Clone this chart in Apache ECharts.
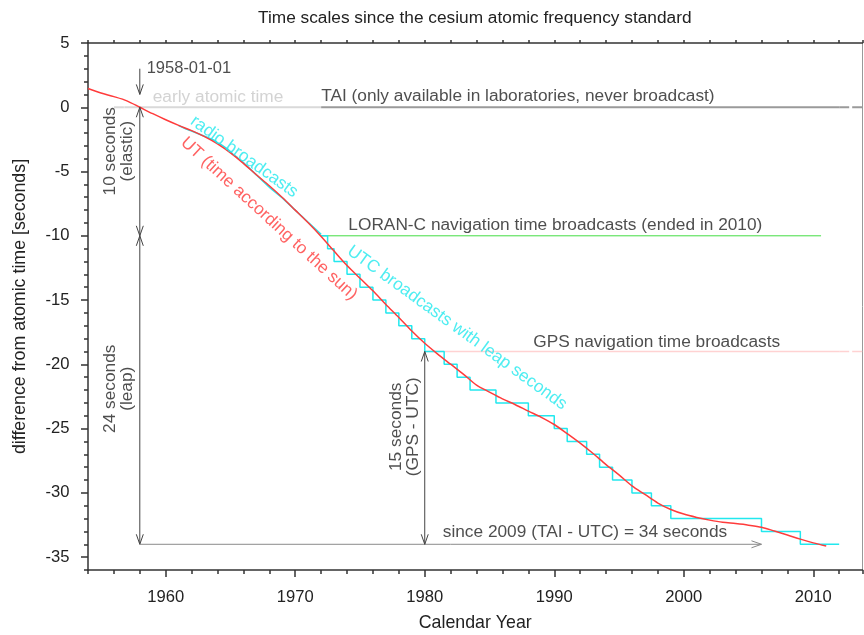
<!DOCTYPE html>
<html><head><meta charset="utf-8">
<script src="https://cdn.jsdelivr.net/npm/echarts@6/dist/echarts.min.js"></script>
<style>html,body{margin:0;padding:0;background:#fff}#c{width:864px;height:635px}</style>
</head><body><div id="c"></div>
<script>
// ---------------- data ----------------
// UT (time according to the sun) minus TAI, seconds, start of each year
const utYears = [1954,1955,1956,1957,1958,1959,1960,1961,1962,1963,1964,1965,1966,1967,1968,1969,1970,
  1971,1972,1973,1974,1975,1976,1977,1978,1979,1980,1981,1982,1983,1984,1985,1986,1987,1988,1989,1990,
  1991,1992,1993,1994,1995,1996,1997,1998,1999,2000,2001,2002,2003,2004,2005,2006,2007,2008,2009,2010,2011];
const utValues = [1.46,1.11,0.83,0.50,0.00,-0.50,-0.97,-1.41,-1.82,-2.29,-2.85,-3.55,-4.36,-5.25,-6.11,-7.02,-8.00,
  -8.99,-10.05,-11.19,-12.31,-13.30,-14.28,-15.34,-16.35,-17.41,-18.36,-19.20,-19.99,-20.78,-21.61,-22.16,-22.69,-23.14,-23.64,-24.12,-24.68,
  -25.39,-26.13,-26.94,-27.80,-28.60,-29.45,-30.12,-30.79,-31.29,-31.65,-31.91,-32.12,-32.29,-32.39,-32.51,-32.67,-32.97,-33.28,-33.60,-33.89,-34.14];

// early "rubber second" radio broadcasts (UTC - TAI), 1961-1972
const radioYears  = [1961,1961.58,1961.58,1962,1963,1963.83,1963.83,1964,1964.25,1964.25,1964.67,1964.67,1965,1965,1965.16,1965.16,1965.5,1965.5,1965.67,1965.67,1966,1967,1968.08,1968.08,1969,1970,1971,1972];
const radioValues = [-1.42,-1.70,-1.65,-1.85,-2.26,-2.60,-2.70,-2.77,-2.88,-2.98,-3.18,-3.28,-3.44,-3.54,-3.62,-3.72,-3.88,-3.98,-4.06,-4.16,-4.31,-5.26,-6.29,-6.19,-7.05,-8.00,-8.95,-9.89];

// UTC with leap seconds (UTC - TAI), value valid from the given date
const utcYears  = [1972,1972.5,1973,1974,1975,1976,1977,1978,1979,1980,1981.5,1982.5,1983.5,1985.5,1988,1990,1991,1992.5,1993.5,1994.5,1996,1997.5,1999,2006,2009,2012];
const utcValues = [-10,-11,-12,-13,-14,-15,-16,-17,-18,-19,-20,-21,-22,-23,-24,-25,-26,-27,-28,-29,-30,-31,-32,-33,-34,-34];

// horizontal time-scale lines
const refNames  = ['early atomic time','TAI','LORAN-C','GPS'];
const refValues = [0, 0, -10, -19];
const refStart  = [1956.8, 1972, 1972, 1980];
const refEnd    = [1972, 2012, 2010.6, 2012];
const refDashStart = [1956, 2012, null, 2012];
const refDashEnd   = [1956.8, 2013.8, null, 2013.8];

// arrows: from (x1,y1) to (x2,y2); heads: 1 = at end, 2 = both ends
const arrowX1 = [1958, 1958, 1958, 1958, 1980];
const arrowY1 = [3, 0, -10, -34, -19];
const arrowX2 = [1958, 1958, 1958, 2006, 1980];
const arrowY2 = [1, -10, -34, -34, -34];
const arrowHeads = [1, 2, 2, 1, 2];

// tick labels
const xTickLabels = [1960, 1970, 1980, 1990, 2000, 2010];
const yTickLabels = [-35, -30, -25, -20, -15, -10, -5, 0, 5];

// annotation texts and their anchors (data coordinates)
const noteTexts = ['1958-01-01','early atomic time','TAI (only available in laboratories, never broadcast)',
  'LORAN-C navigation time broadcasts (ended in 2010)','GPS navigation time broadcasts',
  'since 2009 (TAI - UTC) = 34 seconds','radio broadcasts','UT (time according to the sun)',
  'UTC broadcasts with leap seconds','10 seconds\n(elastic)','24 seconds\n(leap)','15 seconds\n(GPS - UTC)'];
const noteX = [1958.53, 1959.0, 1972.0, 1974.1, 1988.38, 1981.39, 1966.05, 1967.97, 1982.49, 1956.39, 1956.39, 1978.47];
const noteY = [3.0, 0.8, 0.86, -9.2, -18.25, -33.1, -3.85, -8.67, -17.16, -3.42, -21.9, -24.86];

// ---------------- styles ----------------
const FONT = "'Liberation Sans', Arial, Helvetica, sans-serif";
const FS = 17.3;
const TXT = '#222';
const RED = '#ff3b3b';
const CYAN = '#22e8ee';
const refColors = ['#d9d9d9', '#9a9a9a', '#44dd44', '#ffd2d2'];
const refWidths = [2, 2, 1, 1.5];
const arrowColors = ['#444', '#444', '#444', '#8a8a8a', '#444'];
const noteAlign  = ['left','left','left','left','left','left','center','center','center','center','center','center'];
const noteRotate = [0,0,0,0,0,0,-35.7,-42.5,-36,90,90,90];
const noteColor  = [TXT,'#c8c8c8',TXT,TXT,TXT,TXT,CYAN,RED,CYAN,TXT,TXT,TXT];
const noteSize   = [16.5,FS,FS,FS,FS,FS,FS,FS,FS,FS,FS,FS];

const XMIN = 1954, XMAX = 2013.8, YMIN = -36, YMAX = 5;
const axisCol = '#333';
const zip = (xs, ys) => xs.map((x, i) => [x, ys[i]]);

const series = [];
refNames.forEach((n, i) => {
  series.push({ type: 'line', name: n, data: [[refStart[i], refValues[i]], [refEnd[i], refValues[i]]],
    symbol: 'none', silent: true, z: 2, lineStyle: { color: refColors[i], width: refWidths[i] } });
  if (refDashStart[i] !== null) {
    series.push({ type: 'line', name: n + ' (cont.)', data: [[refDashStart[i], refValues[i]], [refDashEnd[i], refValues[i]]],
      symbol: 'none', silent: true, z: 2, lineStyle: { color: refColors[i], width: refWidths[i], type: [10, 3] } });
  }
});
series.push({ type: 'line', name: 'radio broadcasts', data: zip(radioYears, radioValues), symbol: 'none', z: 3,
  lineStyle: { color: CYAN, width: 1.5 } });
series.push({ type: 'line', name: 'UTC', data: zip(utcYears, utcValues), step: 'end', symbol: 'none', z: 3,
  lineStyle: { color: CYAN, width: 1.5 } });
series.push({ type: 'line', name: 'UT', data: zip(utYears, utValues), symbol: 'none', smooth: 0.3, z: 4,
  lineStyle: { color: RED, width: 1.5 } });
series.push({
  type: 'custom', name: 'arrows', z: 5, silent: true,
  data: arrowX1.map((x, i) => [x, arrowY1[i], arrowX2[i], arrowY2[i], arrowHeads[i]]),
  encode: { x: [0, 2], y: [1, 3] },
  renderItem: (params, api) => {
    const a = api.coord([api.value(0), api.value(1)]);
    const b = api.coord([api.value(2), api.value(3)]);
    const heads = api.value(4);
    const col = arrowColors[params.dataIndex];
    const ch = [{ type: 'line', shape: { x1: a[0], y1: a[1], x2: b[0], y2: b[1] }, style: { stroke: col, lineWidth: 1 } }];
    const head = (p, q) => {
      const dx = p[0] - q[0], dy = p[1] - q[1], len = Math.hypot(dx, dy);
      const ux = dx / len, uy = dy / len, L = 10, W = 3.5;
      return { type: 'polyline', shape: { points: [[p[0] - L * ux - W * uy, p[1] - L * uy + W * ux], [p[0], p[1]],
        [p[0] - L * ux + W * uy, p[1] - L * uy - W * ux]] }, style: { stroke: col, fill: null, lineWidth: 1 } };
    };
    if (heads >= 1) ch.push(head(b, a));
    if (heads >= 2) ch.push(head(a, b));
    return { type: 'group', children: ch };
  }
});
series.push({
  type: 'scatter', name: 'notes', z: 6, silent: true, symbolSize: 1, itemStyle: { color: 'rgba(0,0,0,0)' },
  data: noteTexts.map((t, i) => ({
    value: [noteX[i], noteY[i]],
    label: { show: true, formatter: t, position: 'inside', align: noteAlign[i], verticalAlign: 'middle',
      rotate: noteRotate[i], color: noteColor[i], fontSize: noteSize[i], lineHeight: 17, fontFamily: FONT }
  }))
});

const tickStyle = { color: axisCol, width: 1.5 };
const option = {
  animation: false,
  backgroundColor: '#fff',
  title: { text: 'Time scales since the cesium atomic frequency standard', left: 253, top: 5,
    textStyle: { fontSize: FS, fontWeight: 'normal', color: TXT, fontFamily: FONT } },
  grid: [
    { left: 88, right: 1.5, top: 43, bottom: 65, containLabel: false, outerBoundsMode: 'none' },
    { left: 88, right: 1.5, top: 43, bottom: 65, containLabel: false, outerBoundsMode: 'none' }
  ],
  xAxis: [
    { type: 'value', gridIndex: 0, position: 'bottom', min: XMIN, max: XMAX, interval: 2,
      axisLine: { show: true, onZero: false, lineStyle: tickStyle }, axisTick: { show: true, length: 4, lineStyle: tickStyle },
      axisLabel: { show: true, customValues: xTickLabels, formatter: v => String(v), margin: 19, fontSize: 16.6, color: TXT, fontFamily: FONT },
      splitLine: { show: false },
      name: 'Calendar Year', nameLocation: 'middle', nameGap: 44,
      nameTextStyle: { fontSize: 17.8, color: TXT, fontFamily: FONT } },
    { type: 'value', gridIndex: 0, position: 'top', min: XMIN, max: XMAX, interval: 2,
      axisLine: { show: true, onZero: false, lineStyle: tickStyle }, axisTick: { show: true, length: 3, lineStyle: tickStyle },
      axisLabel: { show: false }, splitLine: { show: false } },
    { type: 'value', gridIndex: 1, position: 'bottom', min: XMIN, max: XMAX,
      axisLine: { show: false, onZero: false }, axisTick: { show: true, customValues: xTickLabels, length: 7, lineStyle: tickStyle },
      axisLabel: { show: false }, splitLine: { show: false } }
  ],
  yAxis: [
    { type: 'value', gridIndex: 0, position: 'left', min: YMIN, max: YMAX, interval: 1,
      axisLine: { show: true, onZero: false, lineStyle: tickStyle }, axisTick: { show: true, length: 4, lineStyle: tickStyle },
      axisLabel: { show: true, customValues: yTickLabels, formatter: v => String(v), margin: 18.5, fontSize: 16.6, color: TXT, fontFamily: FONT },
      splitLine: { show: false },
      name: 'difference from atomic time [seconds]', nameLocation: 'middle', nameGap: 59,
      nameTextStyle: { fontSize: 17.8, color: TXT, fontFamily: FONT } },
    { type: 'value', gridIndex: 0, position: 'right', min: YMIN, max: YMAX,
      axisLine: { show: true, onZero: false, lineStyle: { color: '#999', width: 1 } }, axisTick: { show: false },
      axisLabel: { show: false }, splitLine: { show: false } },
    { type: 'value', gridIndex: 1, position: 'left', min: YMIN, max: YMAX,
      axisLine: { show: false, onZero: false }, axisTick: { show: true, customValues: yTickLabels, length: 7, lineStyle: tickStyle },
      axisLabel: { show: false }, splitLine: { show: false } }
  ],
  series: series
};
const chart = echarts.init(document.getElementById('c'), null, { renderer: 'canvas' });
chart.setOption(option);
</script></body></html>
